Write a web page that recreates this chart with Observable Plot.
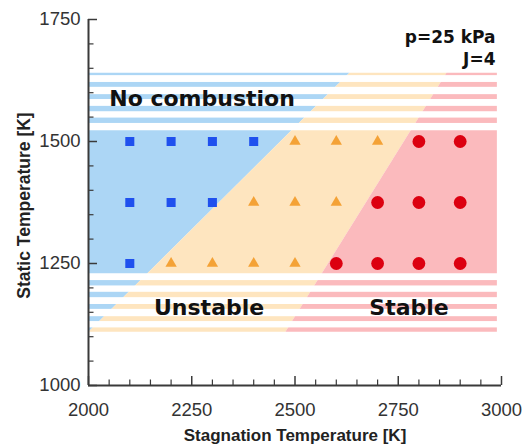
<!DOCTYPE html>
<html>
<head>
<meta charset="utf-8">
<script src="https://cdn.jsdelivr.net/npm/d3@7"></script>
<script src="https://cdn.jsdelivr.net/npm/@observablehq/plot@0.6"></script>
<style>
  html, body { margin: 0; padding: 0; background: #fff; }
</style>
</head>
<body>
<div id="chart"></div>
<script>
// ---- Data ----
const xTicks = [2000, 2250, 2500, 2750, 3000];
const xMinor = [2050, 2100, 2150, 2200, 2300, 2350, 2400, 2450, 2550, 2600, 2650, 2700, 2800, 2850, 2900, 2950];
const yTicks = [1000, 1250, 1500, 1750];
const yMinor = [1050, 1100, 1150, 1200, 1300, 1350, 1400, 1450, 1550, 1600, 1650, 1700];

// No combustion (squares)
const squareStag   = [2100, 2200, 2300, 2400, 2100, 2200, 2300, 2100];
const squareStatic = [1500, 1500, 1500, 1500, 1375, 1375, 1375, 1250];
// Unstable (triangles)
const triStag   = [2500, 2600, 2700, 2400, 2500, 2600, 2200, 2300, 2400, 2500];
const triStatic = [1500, 1500, 1500, 1375, 1375, 1375, 1250, 1250, 1250, 1250];
// Stable (circles)
const circStag   = [2800, 2900, 2700, 2800, 2900, 2600, 2700, 2800, 2900];
const circStatic = [1500, 1500, 1375, 1375, 1375, 1250, 1250, 1250, 1250];

// Region boundaries (static temperature at bottom/top of the shaded band)
const bandStatic = [1109, 1640];
const unstableEdge = [2001, 2633];   // blue / orange boundary
const stableEdge = [2478, 2868];     // orange / red boundary
const regionLeft = 2000;
const regionRight = 2990;
// white gaps forming the striped fade
const gapLo = [1522, 1548, 1572, 1596, 1621, 1215, 1191, 1166, 1141, 1118];
const gapHi = [1537, 1561, 1586, 1611, 1635, 1229, 1204, 1180, 1156, 1131];

const labelText = ["No combustion", "Unstable", "Stable"];
const labelStag = [2275, 2292, 2776];
const labelStatic = [1588, 1158, 1158];

// ---- Build tables ----
const pts = (xs, ys) => xs.map((x, i) => ({x, y: ys[i]}));
const band = bandStatic.map((y, i) => ({y, u: unstableEdge[i], s: stableEdge[i]}));
const gaps = gapLo.map((lo, i) => ({lo, hi: gapHi[i]}));
const labels = labelText.map((t, i) => ({t, x: labelStag[i], y: labelStatic[i]}));

const W = 522, H = 446, mL = 88, mR = 21, mT = 19, mB = 61;
const frameW = W - mL - mR, frameH = H - mT - mB;
const axisColor = "#3a3a3a";

const chart = Plot.plot({
  width: W, height: H,
  marginLeft: mL, marginRight: mR, marginTop: mT, marginBottom: mB,
  style: {fontFamily: "Liberation Sans, Arial, sans-serif", fontSize: "18.5px", color: "#333", background: "#fff"},
  x: {domain: [2000, 3000]},
  y: {domain: [1000, 1750]},
  marks: [
    Plot.areaX(band, {y: "y", x1: () => regionLeft, x2: "u", fill: "#acd6f5"}),
    Plot.areaX(band, {y: "y", x1: "u", x2: "s", fill: "#fee5bf"}),
    Plot.areaX(band, {y: "y", x1: "s", x2: () => regionRight, fill: "#fbbabd"}),
    Plot.rect(gaps, {x1: () => regionLeft - 2, x2: () => regionRight + 2, y1: "lo", y2: "hi", fill: "#fff"}),
    // inward ticks
    Plot.tickX(xTicks, {x: d => d, insetTop: frameH - 9, stroke: axisColor, strokeWidth: 1.5}),
    Plot.tickX(xMinor, {x: d => d, insetTop: frameH - 5.5, stroke: axisColor, strokeWidth: 1.2}),
    Plot.tickY(yTicks, {y: d => d, insetRight: frameW - 9, stroke: axisColor, strokeWidth: 1.5}),
    Plot.tickY(yMinor, {y: d => d, insetRight: frameW - 5.5, stroke: axisColor, strokeWidth: 1.2}),
    Plot.ruleX([2000], {stroke: axisColor, strokeWidth: 2}),
    Plot.ruleY([1000], {stroke: axisColor, strokeWidth: 2}),
    Plot.axisX({ticks: xTicks, tickSize: 0, tickPadding: 17, label: null, tickFormat: d => String(d)}),
    Plot.axisY({ticks: yTicks, tickSize: 0, tickPadding: 8, label: null, tickFormat: d => String(d)}),
    // points
    Plot.dot(pts(squareStag, squareStatic), {x: "x", y: "y", symbol: "square", r: 5.1, fill: "#1f50ee", stroke: "none"}),
    Plot.dot(pts(triStag, triStatic), {x: "x", y: "y", symbol: "triangle", r: 4.2, fill: "#f4a236", stroke: "none"}),
    Plot.dot(pts(circStag, circStatic), {x: "x", y: "y", symbol: "circle", r: 6.4, fill: "#dc0010", stroke: "none"}),
    // region labels
    Plot.text(labels, {x: "x", y: "y", text: "t", fontFamily: "DejaVu Sans", fontWeight: "bold", fontSize: 22, fill: "#111", lineAnchor: "middle"}),
    Plot.text(["p=25 kPa\nJ=4"], {frameAnchor: "top-right", textAnchor: "end", lineAnchor: "top", dx: -6, dy: 7, lineHeight: 1.335, fontFamily: "DejaVu Sans", fontWeight: "bold", fontSize: 17, fill: "#111"}),
    // axis titles
    Plot.text(["Stagnation Temperature [K]"], {frameAnchor: "bottom", textAnchor: "middle", lineAnchor: "middle", dy: 50, fontWeight: "bold", fontSize: 17, fill: "#222"}),
    Plot.text(["Static Temperature [K]"], {frameAnchor: "left", textAnchor: "middle", lineAnchor: "middle", rotate: -90, dx: -64.5, dy: 3, fontWeight: "bold", fontSize: 17.5, fill: "#222"})
  ]
});
document.getElementById("chart").appendChild(chart);
</script>
</body>
</html>
